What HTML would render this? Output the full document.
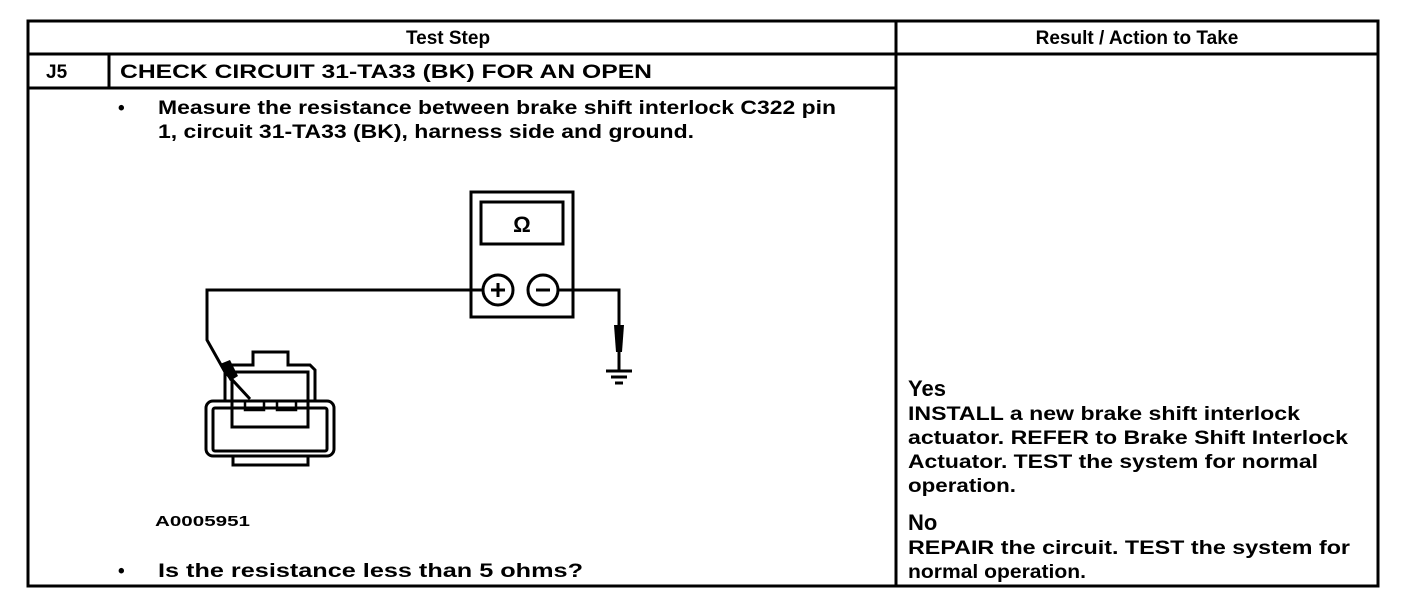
<!DOCTYPE html>
<html><head><meta charset="utf-8"><style>
html,body{margin:0;padding:0;background:#fff;width:1408px;height:600px;overflow:hidden}
svg{display:block}
text{font-family:"Liberation Sans",Arial,sans-serif;font-weight:bold;fill:#000}
</style></head><body>
<svg width="1408" height="600" viewBox="0 0 1408 600" xmlns="http://www.w3.org/2000/svg">
<g stroke="#000" stroke-width="3" fill="none">
<rect x="28" y="21" width="1350" height="565"/>
<line x1="28" y1="54" x2="1378" y2="54"/>
<line x1="28" y1="88" x2="896" y2="88"/>
<line x1="896" y1="21" x2="896" y2="586"/>
<line x1="109" y1="54" x2="109" y2="88"/>
</g>
<g font-size="19">
<text x="448" y="44" text-anchor="middle">Test Step</text>
<text x="1137" y="44" text-anchor="middle">Result / Action to Take</text>
<text x="46" y="78">J5</text>
<text x="120" y="78" textLength="532" lengthAdjust="spacingAndGlyphs">CHECK CIRCUIT 31-TA33 (BK) FOR AN OPEN</text>
<text x="118" y="114">•</text>
<text x="158" y="114" textLength="678" lengthAdjust="spacingAndGlyphs">Measure the resistance between brake shift interlock C322 pin</text>
<text x="158" y="138" textLength="536" lengthAdjust="spacingAndGlyphs">1, circuit 31-TA33 (BK), harness side and ground.</text>
<text x="118" y="577">•</text>
<text x="158" y="577" textLength="425" lengthAdjust="spacingAndGlyphs">Is the resistance less than 5 ohms?</text>
<text x="908" y="420" textLength="392" lengthAdjust="spacingAndGlyphs">INSTALL a new brake shift interlock</text>
<text x="908" y="444" textLength="440" lengthAdjust="spacingAndGlyphs">actuator. REFER to Brake Shift Interlock</text>
<text x="908" y="468" textLength="410" lengthAdjust="spacingAndGlyphs">Actuator. TEST the system for normal</text>
<text x="908" y="492" textLength="108" lengthAdjust="spacingAndGlyphs">operation.</text>
<text x="908" y="554" textLength="442" lengthAdjust="spacingAndGlyphs">REPAIR the circuit. TEST the system for</text>
<text x="908" y="578" textLength="178" lengthAdjust="spacingAndGlyphs">normal operation.</text>
</g>
<text x="908" y="396" font-size="22">Yes</text>
<text x="908" y="530" font-size="22">No</text>
<text x="155" y="526" font-size="15" textLength="95" lengthAdjust="spacingAndGlyphs">A0005951</text>
<g stroke="#000" stroke-width="3" fill="none">
<rect x="471" y="192" width="102" height="125"/>
<rect x="481" y="202" width="82" height="42"/>
<circle cx="498" cy="290" r="15"/>
<circle cx="543" cy="290" r="15"/>
<line x1="491" y1="290" x2="505" y2="290"/>
<line x1="498" y1="283" x2="498" y2="297"/>
<line x1="536" y1="290" x2="550" y2="290"/>
<polyline points="483,290 207,290 207,340 225,372 250,399"/>
<polyline points="558,290 619,290 619,372"/>
<line x1="606" y1="371" x2="632" y2="371"/>
<line x1="611" y1="377" x2="627" y2="377"/>
<line x1="615" y1="383" x2="623" y2="383"/>
<rect x="206" y="401" width="128" height="55" rx="7"/>
<rect x="213" y="408" width="114" height="43" rx="2"/>
<rect x="233" y="456" width="75" height="9"/>
<polyline points="225,400 225,365 253,365 253,352 288,352 288,365 310,365 315,370 315,400"/>
<rect x="232" y="372" width="76" height="55"/>
<rect x="245" y="401" width="19" height="9" stroke-width="2.5"/>
<rect x="277" y="401" width="19" height="9" stroke-width="2.5"/>
</g>
<polygon points="220,364 230,360 238,376 230,381" fill="#000"/>
<polygon points="614,325 624,325 622,352 616,352" fill="#000"/>
<text x="522" y="232" font-size="22" text-anchor="middle">Ω</text>
</svg>
</body></html>
